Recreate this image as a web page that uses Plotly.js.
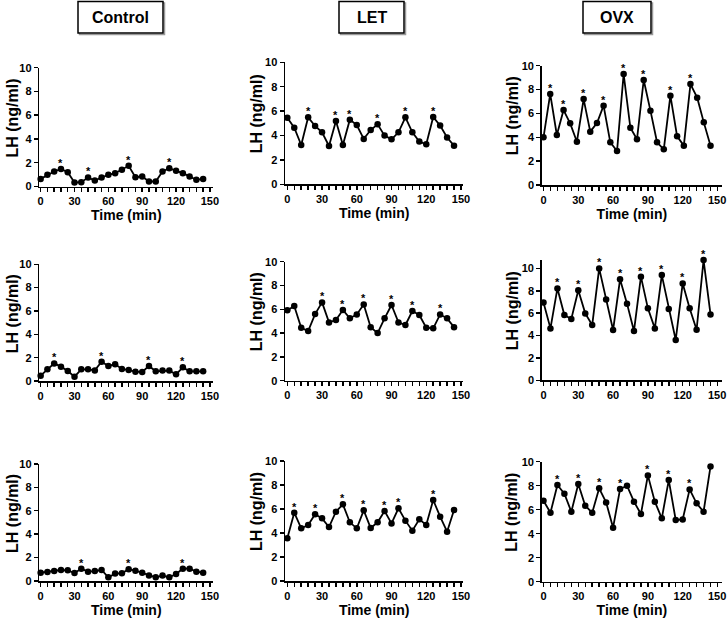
<!DOCTYPE html>
<html><head><meta charset="utf-8">
<script src="https://cdn.plot.ly/plotly-3.0.1.min.js"></script>
<style>html,body{margin:0;padding:0;background:#fff}#chart{width:728px;height:626px}</style>
</head><body><div id="chart"></div>
<script>
// ---------- data ----------
const groups = ['Control', 'LET', 'OVX'];
const xTickVals = [0, 30, 60, 90, 120, 150];
const yTickVals = [0, 2, 4, 6, 8, 10];

const times = [0,6,12,18,24,30,36,42,48,54,60,66,72,78,84,90,96,102,108,114,120,126,132,138,144];
const timesOvx1 = [0,5.8,11.5,17.3,23,28.8,34.6,40.3,46.1,51.8,57.6,63.4,69.1,74.9,80.6,86.4,92.2,97.9,103.7,109.4,115.2,121,126.7,132.5,138.2,144];

const control1 = [0.64,0.98,1.26,1.48,1.2,0.34,0.36,0.76,0.5,0.76,0.98,1.12,1.4,1.74,0.78,0.84,0.42,0.42,1.26,1.54,1.32,1.12,0.84,0.56,0.64];
const control1Stars = [3,7,13,19];
const let1 = [5.46,4.64,3.22,5.49,4.78,4.26,3.14,5.19,3.22,5.3,4.86,3.72,4.45,4.92,3.99,3.69,4.26,5.49,4.26,3.5,3.28,5.52,4.81,3.83,3.17];
const let1Stars = [3,7,9,13,17,21];
const ovx1 = [4.0,7.63,4.19,6.28,5.17,3.63,7.2,4.47,5.2,6.65,3.58,2.85,9.3,4.8,3.83,8.8,6.23,3.58,2.99,7.49,4.08,3.3,8.46,7.32,5.25,3.3];
const ovx1Stars = [1,3,6,9,12,15,19,22];

const control2 = [0.46,1.0,1.51,1.23,0.86,0.37,1.0,1.0,0.91,1.66,1.29,1.43,1.03,0.94,0.8,0.77,1.29,0.83,0.89,0.89,0.57,1.17,0.83,0.83,0.83];
const control2Stars = [2,9,16,21];
const let2 = [5.91,6.27,4.45,4.17,5.6,6.58,4.9,5.1,5.94,5.24,5.57,6.41,4.5,4.0,5.24,6.36,4.9,4.68,5.85,5.52,4.45,4.4,5.57,5.24,4.5];
const let2Stars = [5,8,11,15,18,22];
const ovx2 = [6.96,4.64,8.21,5.83,5.48,8.04,5.98,4.94,10.0,7.23,4.49,9.02,6.85,4.4,9.26,6.43,4.64,9.4,6.37,3.6,8.66,6.43,4.52,10.74,5.89];
const ovx2Stars = [2,5,8,11,14,17,20,23];

const control3 = [0.71,0.77,0.85,0.94,0.91,0.68,1.05,0.8,0.85,0.94,0.31,0.63,0.66,1.0,0.88,0.71,0.48,0.31,0.46,0.31,0.6,1.05,1.05,0.8,0.71];
const control3Stars = [6,13,21];
const let3 = [3.56,5.69,4.39,4.67,5.56,5.22,4.5,5.78,6.39,4.89,4.39,5.89,4.42,4.89,5.83,4.8,6.06,5.03,4.19,5.14,4.67,6.75,5.36,4.11,5.92];
const let3Stars = [1,4,8,11,14,16,21];
const ovx3 = [6.75,5.75,8.06,7.33,5.83,8.14,6.33,5.75,7.78,6.61,4.5,7.72,8.0,6.67,5.64,8.86,6.67,5.28,8.47,5.14,5.19,7.69,6.53,5.83,9.61];
const ovx3Stars = [2,5,8,11,15,18,21];

// ---------- layout geometry (pixels) ----------
const W = 728, H = 626;
const FONT = 'Liberation Sans, Arial, Helvetica, sans-serif';
const TICKFONT = {family: FONT, size: 11, color: '#000', weight: 'bold'};
const cols = [
  {l: 39.3, r: 213.3, range: [-1.2, 153], titleX: 12.5},
  {l: 285, r: 463.3, range: [-2, 152], titleX: 256},
  {l: 541.7, r: 722, range: [-1.55, 153.9], titleX: 512}
];
const titleBoxes = [[78, 163], [339, 404], [583, 651]];
const panels = [
  {row: 0, col: 0, x: times, y: control1, stars: control1Stars, top: 67.7, bottom: 186.5, ymax: 10},
  {row: 0, col: 1, x: times, y: let1, stars: let1Stars, top: 62.3, bottom: 184.3, ymax: 10},
  {row: 0, col: 2, x: timesOvx1, y: ovx1, stars: ovx1Stars, top: 65.7, bottom: 185, ymax: 10},
  {row: 1, col: 0, x: times, y: control2, stars: control2Stars, top: 264.3, bottom: 381, ymax: 10},
  {row: 1, col: 1, x: times, y: let2, stars: let2Stars, top: 261.7, bottom: 380.7, ymax: 10},
  {row: 1, col: 2, x: times, y: ovx2, stars: ovx2Stars, top: 260, bottom: 380.3, ymax: 10.75},
  {row: 2, col: 0, x: times, y: control3, stars: control3Stars, top: 463.9, bottom: 581, ymax: 10},
  {row: 2, col: 1, x: times, y: let3, stars: let3Stars, top: 461, bottom: 581, ymax: 10},
  {row: 2, col: 2, x: times, y: ovx3, stars: ovx3Stars, top: 461.7, bottom: 581.7, ymax: 10}
];

const data = [];
const layout = {
  width: W, height: H,
  margin: {l: 0, r: 0, t: 0, b: 0},
  paper_bgcolor: '#fff', plot_bgcolor: '#fff',
  showlegend: false,
  font: {family: FONT, color: '#000'},
  shapes: [], annotations: []
};
const edgeLabelIdx = []; // annotation indices of the right-edge "150" labels

panels.forEach((p, i) => {
  const n = i + 1;
  const sfx = n === 1 ? '' : String(n);
  const c = cols[p.col];
  const lastCol = p.col === 2;
  data.push({
    type: 'scatter', mode: 'lines+markers',
    x: p.x, y: p.y, xaxis: 'x' + sfx, yaxis: 'y' + sfx,
    line: {color: '#000', width: 1.8},
    marker: {color: '#000', size: 6.5},
    cliponaxis: false
  });
  p.stars.forEach(k => {
    layout.annotations.push({
      xref: 'x' + sfx, yref: 'y' + sfx, x: p.x[k], y: p.y[k],
      text: '*', showarrow: false, xanchor: 'center', yanchor: 'middle', yshift: 6,
      font: {family: FONT, size: 11, color: '#000', weight: 'bold'}
    });
  });
  layout.annotations.push({
    xref: 'paper', yref: 'paper',
    x: c.titleX / W, y: 1 - ((p.top + p.bottom) / 2 - 9) / H,
    xanchor: 'center', yanchor: 'middle', textangle: -90, showarrow: false,
    text: 'LH (ng/ml)', font: {family: FONT, size: 16, color: '#000', weight: 'bold'}
  });
  // right-column axes: the last tick label is drawn as a text label at x = 150
  const tickText = xTickVals.map((v, k) => (lastCol && k === xTickVals.length - 1) ? '' : String(v));
  if (lastCol) {
    edgeLabelIdx.push(layout.annotations.length);
    layout.annotations.push({
      xref: 'x' + sfx, yref: 'y' + sfx + ' domain',
      x: xTickVals[xTickVals.length - 1], y: 0, yshift: -15,
      xanchor: 'center', yanchor: 'middle', showarrow: false,
      text: String(xTickVals[xTickVals.length - 1]), font: TICKFONT
    });
  }
  const showXTitle = p.row !== 1;
  layout['xaxis' + sfx] = {
    domain: [c.l / W, c.r / W],
    anchor: 'y' + sfx,
    range: c.range,
    tickmode: 'array', tickvals: xTickVals, ticktext: tickText,
    ticks: 'outside', ticklen: 4, tickwidth: 1.5, tickcolor: '#000',
    minor: {dtick: 6, tick0: 0, ticks: 'outside', ticklen: 4, tickwidth: 1.5, tickcolor: '#000', showgrid: false},
    showline: true, linecolor: '#000', linewidth: 1.5,
    showgrid: false, zeroline: false,
    ticklabeloverflow: 'allow',
    tickfont: TICKFONT,
    title: showXTitle ? {text: 'Time (min)', standoff: 4, font: {family: FONT, size: 14, color: '#000', weight: 'bold'}} : {text: ''},
    fixedrange: true
  };
  layout['yaxis' + sfx] = {
    domain: [1 - p.bottom / H, 1 - p.top / H],
    anchor: 'x' + sfx,
    range: [0, p.ymax],
    tickmode: 'array', tickvals: yTickVals, ticktext: yTickVals.map(String),
    ticks: 'outside', ticklen: 4, tickwidth: 1.5, tickcolor: '#000',
    showline: true, linecolor: '#000', linewidth: 1.5,
    showgrid: false, zeroline: false,
    tickfont: TICKFONT,
    fixedrange: true
  };
});

groups.forEach((g, j) => {
  const [x0, x1] = titleBoxes[j];
  layout.shapes.push({
    type: 'rect', xref: 'paper', yref: 'paper',
    x0: (x0 + 1.5) / W, x1: (x1 + 1.5) / W, y0: 1 - 34.5 / H, y1: 1 - 3 / H,
    line: {color: '#999', width: 1.5}, fillcolor: 'rgba(0,0,0,0)'
  });
  layout.shapes.push({
    type: 'rect', xref: 'paper', yref: 'paper',
    x0: x0 / W, x1: x1 / W, y0: 1 - 33 / H, y1: 1 - 1.5 / H,
    line: {color: '#000', width: 1.5}, fillcolor: '#fff'
  });
  layout.annotations.push({
    xref: 'paper', yref: 'paper', x: (x0 + x1) / 2 / W, y: 1 - 17.5 / H,
    xanchor: 'center', yanchor: 'middle', showarrow: false,
    text: g, font: {family: FONT, size: 16, color: '#000', weight: 'bold'}
  });
});

Plotly.newPlot('chart', data, layout, {staticPlot: true, displayModeBar: false}).then(gd => {
  // align the edge labels vertically with the other tick labels of the same axis
  const fl = gd._fullLayout;
  const gb = gd.getBoundingClientRect();
  const upd = {};
  let k = 0;
  panels.forEach((p, i) => {
    if (p.col !== 2) return;
    const idx = edgeLabelIdx[k++];
    const sfx = i === 0 ? '' : String(i + 1);
    const ax = fl['xaxis' + sfx];
    const ref = Array.from(gd.querySelectorAll('.' + ax._id + 'tick text')).find(t => t.textContent === '0');
    if (!ref) return;
    const rb = ref.getBoundingClientRect();
    const cy = (rb.top + rb.bottom) / 2 - gb.top;
    upd['annotations[' + idx + '].yshift'] = -(cy - p.bottom);
  });
  if (Object.keys(upd).length) Plotly.relayout(gd, upd);
});
</script>
</body></html>
